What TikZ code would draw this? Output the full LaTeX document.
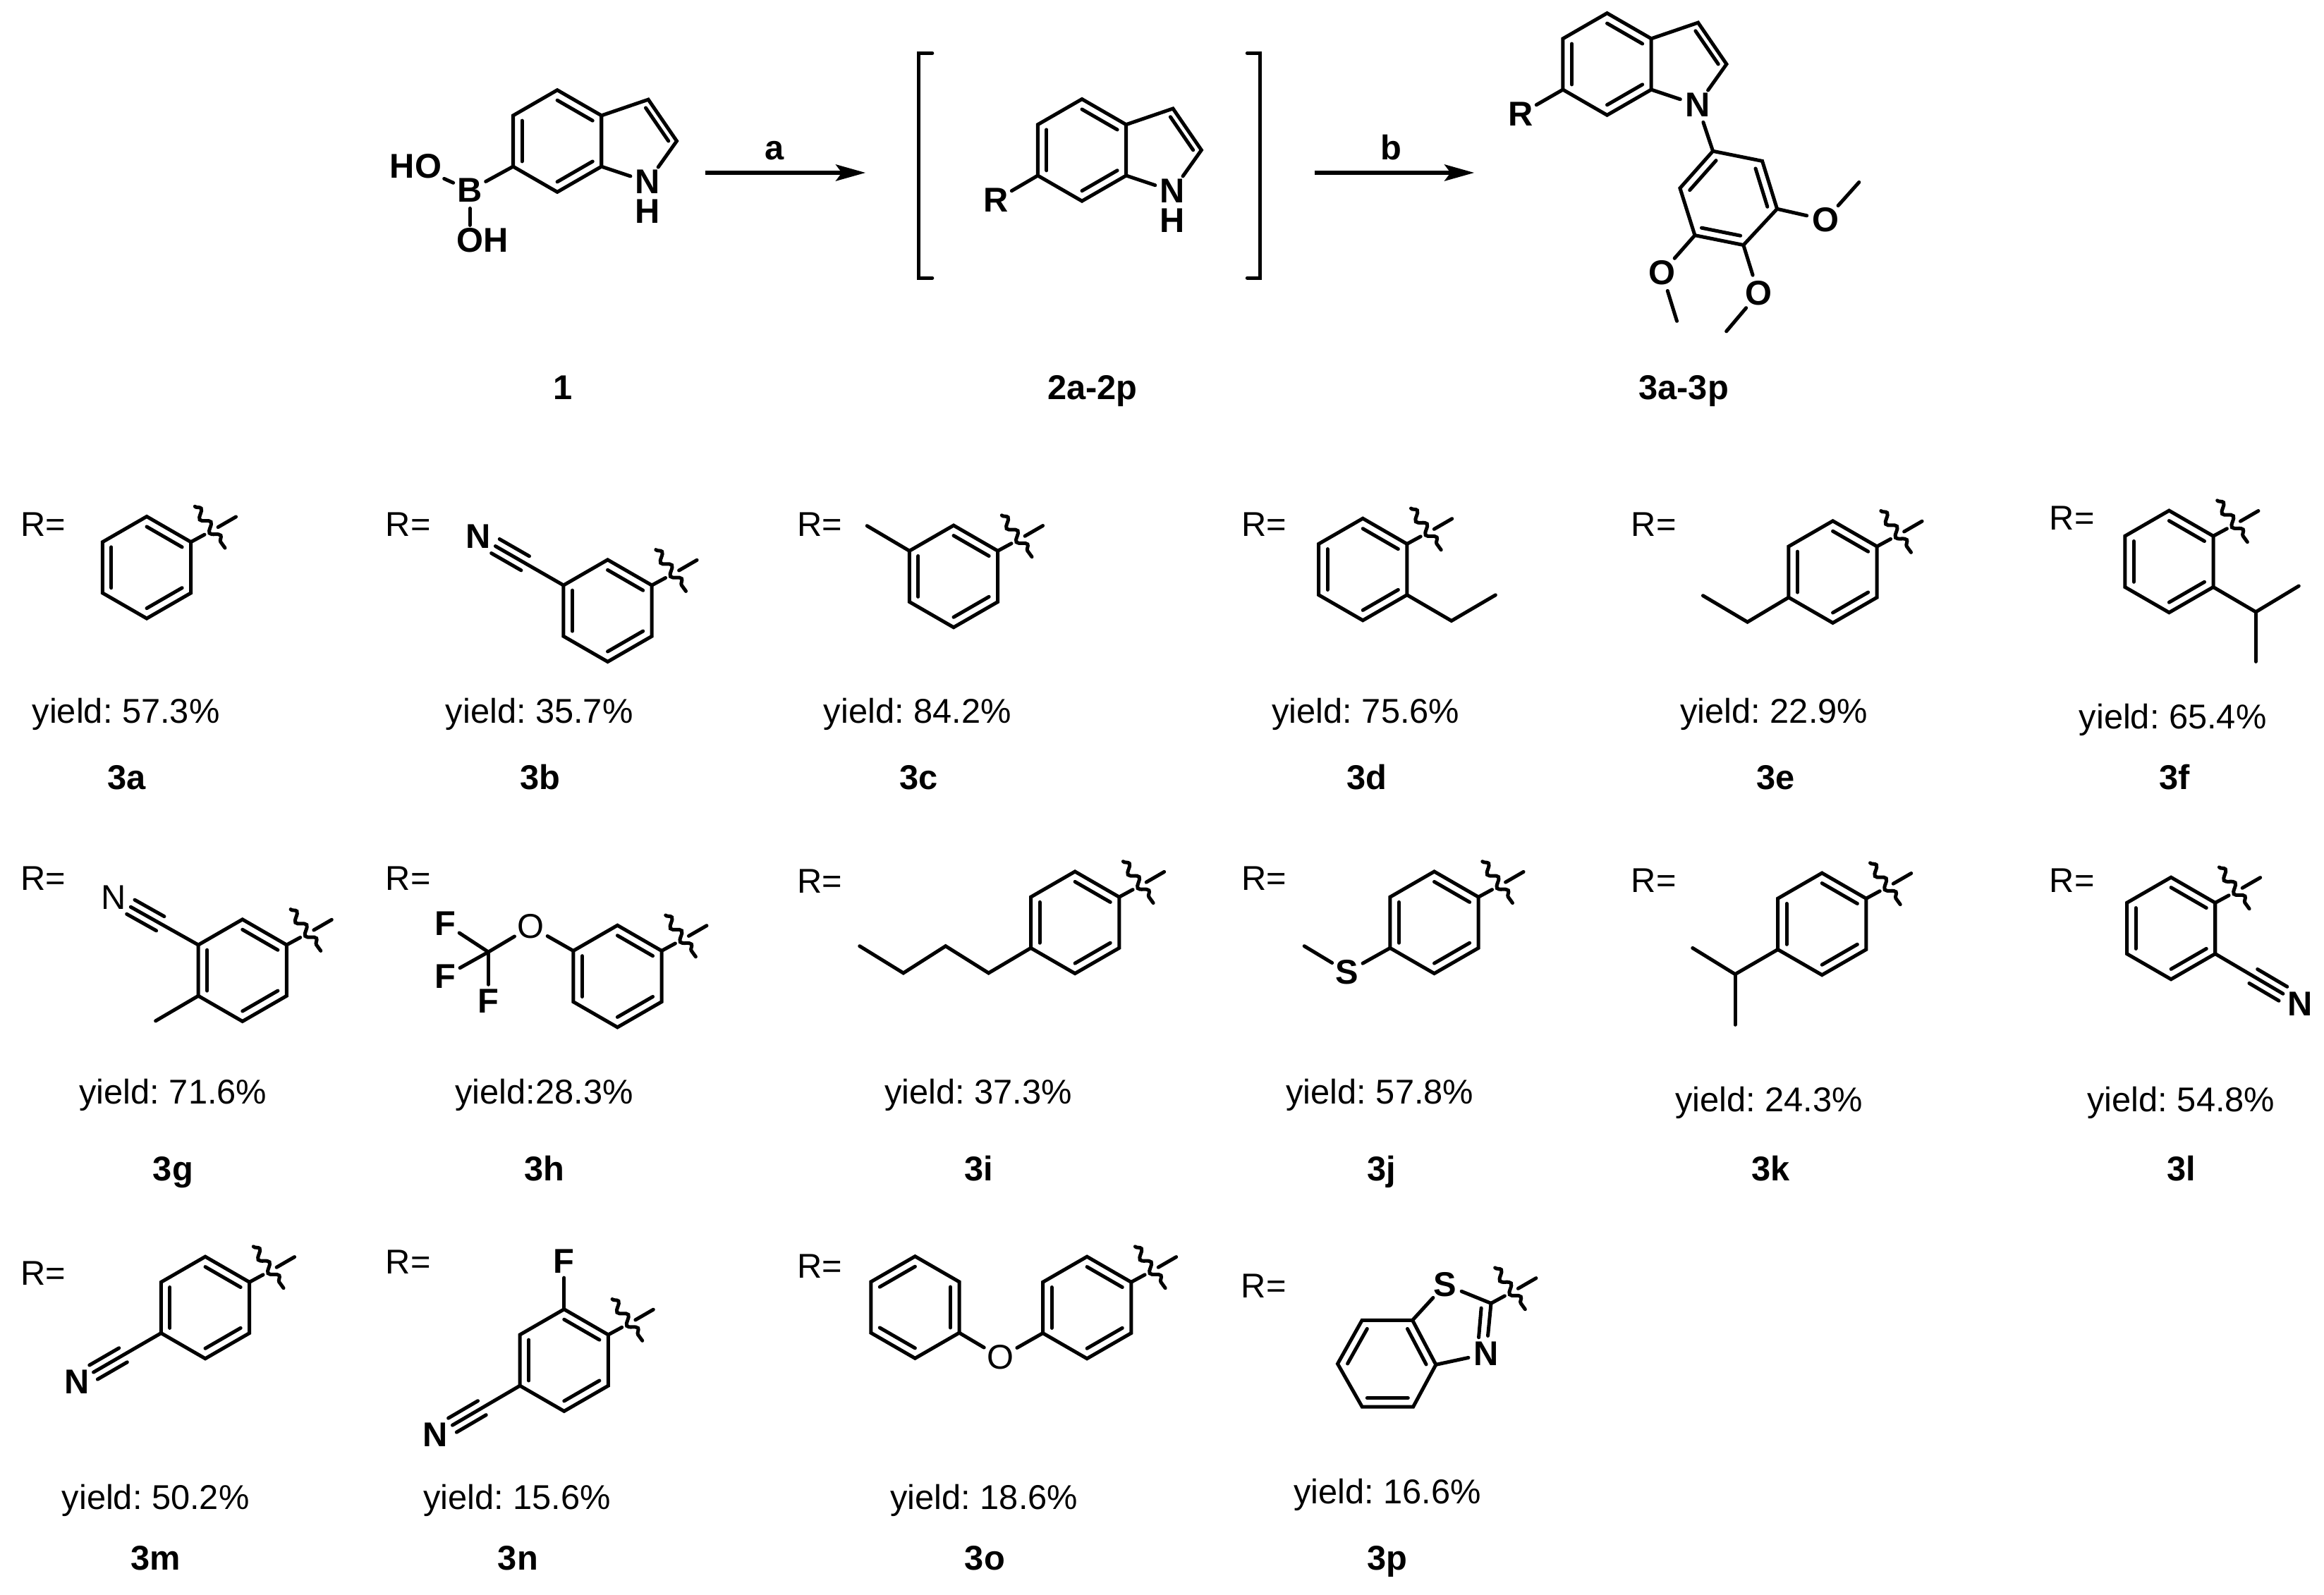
\documentclass[tikz,border=0pt]{standalone}
\usepackage{fontspec}
\setmainfont{Liberation Sans}
\frenchspacing
\usetikzlibrary{arrows.meta, calc, decorations.pathmorphing}
\tikzstyle{bond} = [line width=0.68pt, line cap=round]
\tikzstyle{wavyLine} = [bond, decorate, decoration={snake, amplitude=0.75pt, segment length=3.2pt}]
\tikzstyle{rxnArrow} = [line width=0.8pt, -{Stealth[length=2mm, width=1.1mm, inset=0.4mm]}]
\tikzstyle{atomBold} = [circle, inner sep=0pt, font=\fontsize{6.6}{8}\selectfont\bfseries]
\tikzstyle{atomThin} = [circle, inner sep=0pt, font=\fontsize{6.6}{8}\selectfont]
\tikzstyle{groupBold} = [rectangle, inner sep=0.3pt, font=\fontsize{6.6}{8}\selectfont\bfseries]
\tikzstyle{plainLabel} = [anchor=base, inner sep=0pt, font=\fontsize{6.6}{8}\selectfont]
\tikzstyle{cpdLabel} = [anchor=base, inner sep=0pt, font=\fontsize{6.6}{8}\selectfont\bfseries]
% ring outline, vertices named by position
\newcommand{\benzOutline}[3]{
    \coordinate (#1C) at (#2,#3);
    \coordinate (#1T) at (#2,#3-34.4);
    \coordinate (#1UR) at (#2+29.8,#3-17.2);
    \coordinate (#1LR) at (#2+29.8,#3+17.2);
    \coordinate (#1B) at (#2,#3+34.4);
    \coordinate (#1LL) at (#2-29.8,#3+17.2);
    \coordinate (#1UL) at (#2-29.8,#3-17.2);
    \draw [bond] (#1T) -- (#1UR) -- (#1LR) -- (#1B) -- (#1LL) -- (#1UL) -- cycle;
}
\newcommand{\innerBond}[3]{\draw [bond] ($(#1C)!0.8!(#1#2)$) -- ($(#1C)!0.8!(#1#3)$);}
\newcommand{\benzRing}[3]{
    \benzOutline{#1}{#2}{#3}
    \innerBond{#1}{T}{UR}
    \innerBond{#1}{LR}{B}
    \innerBond{#1}{LL}{UL}
}
\newcommand{\indoleCore}[3]{
    \benzRing{#1}{#2}{#3}
    \coordinate (#1pC) at (#2+52.7,#3);
    \coordinate (#1p3) at (#2+61.4,#3-28);
    \coordinate (#1p2) at (#2+80.6,#3);
    \node [atomBold] (#1N) at (#2+61,#3+27.6) {N};
    \draw [bond] (#1UR) -- (#1p3) -- (#1p2) -- (#1N) -- (#1LR);
    \innerBond{#1p}{3}{2}
}
% cut mark on the free valence
\newcommand{\wavyCut}[1]{
    \draw [bond] (#1) -- ($(#1)+(9.2,-5)$);
    \draw [bond] ($(#1)+(18.3,-10)$) -- ($(#1)+(30.4,-17)$);
    \draw [wavyLine] ($(#1)+(2.7,-24)$) -- ($(#1)+(23,4)$);
}
% nitrile from ring vertex to the N label
\newcommand{\cyano}[2]{
    \coordinate (cnEnd) at ($(#1)!0.8!(#2)$);
    \coordinate (cnMid) at ($(#1)!0.45!(#2)$);
    \draw [bond] (#1) -- (cnEnd);
    \draw [bond] ($(cnMid)!0.055cm!90:(cnEnd)$) -- ($(cnEnd)!0.055cm!-90:(cnMid)$);
    \draw [bond] ($(cnMid)!0.055cm!-90:(cnEnd)$) -- ($(cnEnd)!0.055cm!90:(cnMid)$);
}
\begin{document}
\begin{tikzpicture}[x=0.01cm, y=-0.01cm]
    \useasboundingbox (0,0) rectangle (1568,1076.4);

    % Boronic acid 1
    \indoleCore{one}{376}{95.2}
    \node [atomBold, below of=oneN, node distance=0.2cm] (oneH) {H};
    \node [atomBold] (oneB) at (317,128.4) {B};
    \node [groupBold] (oneHO) at (280.5,112) {HO};
    \node [groupBold] (oneOH) at (325.5,162) {OH};
    \draw [bond] (oneLL) -- (oneB);
    \draw [bond] (oneB) -- (oneHO);
    \draw [bond] (oneB) -- (oneB |- oneOH.north);
    \node [cpdLabel] (lblOne) at (380,269.6) {1};

    % Intermediate 2
    \indoleCore{two}{730}{101.3}
    \node [atomBold, below of=twoN, node distance=0.2cm] (twoH) {H};
    \node [atomBold] (twoR) at (672,135) {R};
    \draw [bond] (twoLL) -- (twoR);
    \coordinate (brLa) at (629,35.9);
    \coordinate (brLb) at (619.9,35.9);
    \coordinate (brLc) at (619.9,187.6);
    \coordinate (brLd) at (629,187.6);
    \coordinate (brRa) at (841.5,35.9);
    \coordinate (brRb) at (850.3,35.9);
    \coordinate (brRc) at (850.3,187.6);
    \coordinate (brRd) at (841.5,187.6);
    \draw [bond] (brLa) -- (brLb) -- (brLc) -- (brLd);
    \draw [bond] (brRa) -- (brRb) -- (brRc) -- (brRd);
    \node [cpdLabel] (lblTwo) at (737,269.6) {2a-2p};

    % Product 3
    \indoleCore{thr}{1084.3}{43.3}
    \node [atomBold] (thrR) at (1026,76.9) {R};
    \draw [bond] (thrLL) -- (thrR);
    \coordinate (arC) at (1166.3,133.8);
    \coordinate (ar1) at (1155.7,102);
    \coordinate (ar2) at (1189,108.7);
    \coordinate (ar3) at (1199,141);
    \coordinate (ar4) at (1176.3,165.4);
    \coordinate (ar5) at (1143.5,158.8);
    \coordinate (ar6) at (1133.5,127);
    \draw [bond] (ar1) -- (ar2) -- (ar3) -- (ar4) -- (ar5) -- (ar6) -- cycle;
    \innerBond{ar}{1}{6}
    \innerBond{ar}{2}{3}
    \innerBond{ar}{4}{5}
    \draw [bond] (thrN) -- (ar1);
    \node [atomBold] (omeA) at (1231.6,148.4) {O};
    \node [atomBold] (omeB) at (1186.4,198) {O};
    \node [atomBold] (omeC) at (1121.3,184) {O};
    \coordinate (meA) at (1254.3,123);
    \coordinate (meB) at (1164.8,223.6);
    \coordinate (meC) at (1131.4,216.7);
    \draw [bond] (ar3) -- (omeA) -- (meA);
    \draw [bond] (ar4) -- (omeB) -- (meB);
    \draw [bond] (ar5) -- (omeC) -- (meC);
    \node [cpdLabel] (lblThr) at (1136,269.6) {3a-3p};

    % Arrows
    \coordinate (arrAs) at (476,116.6);
    \coordinate (arrAe) at (584,116.6);
    \coordinate (arrBs) at (887,116.6);
    \coordinate (arrBe) at (994.7,116.6);
    \draw [rxnArrow] (arrAs) -- node[cpdLabel, pos=0.43, above=2pt, anchor=south] (lblA) {a} (arrAe);
    \draw [rxnArrow] (arrBs) -- node[cpdLabel, pos=0.48, above=2pt, anchor=south] (lblB) {b} (arrBe);

    % 3a
    \node [plainLabel] (rA) at (29,361.7) {R=};
    \benzRing{ra}{99}{383}
    \wavyCut{raUR}
    \node [plainLabel] (yA) at (85,487.8) {yield: 57.3\%};
    \node [cpdLabel] (lA) at (85.5,532.6) {3a};

    % 3b
    \node [plainLabel] (rB) at (275.4,361.7) {R=};
    \benzRing{rb}{410}{412.2}
    \wavyCut{rbUR}
    \node [atomBold] (nB) at (322.8,362) {N};
    \cyano{rbUL}{nB}
    \node [plainLabel] (yB) at (363.9,487.8) {yield: 35.7\%};
    \node [cpdLabel] (lB) at (364.5,532.6) {3b};

    % 3c
    \node [plainLabel] (rC) at (553,361.7) {R=};
    \benzRing{rc}{643.4}{389}
    \wavyCut{rcUR}
    \coordinate (meCc) at (585,354.9);
    \draw [bond] (rcUL) -- (meCc);
    \node [plainLabel] (yC) at (619,487.8) {yield: 84.2\%};
    \node [cpdLabel] (lC) at (620,532.6) {3c};

    % 3d
    \node [plainLabel] (rD) at (853,361.7) {R=};
    \benzRing{rd}{919.5}{384.3}
    \wavyCut{rdUR}
    \coordinate (etDa) at (979.3,419);
    \coordinate (etDb) at (1009,401.6);
    \draw [bond] (rdLR) -- (etDa) -- (etDb);
    \node [plainLabel] (yD) at (921.5,487.8) {yield: 75.6\%};
    \node [cpdLabel] (lD) at (922,532.6) {3d};

    % 3e
    \node [plainLabel] (rE) at (1115.8,361.7) {R=};
    \benzRing{re}{1236.6}{386}
    \wavyCut{reUR}
    \coordinate (etEa) at (1179,419.8);
    \coordinate (etEb) at (1149,402);
    \draw [bond] (reLL) -- (etEa) -- (etEb);
    \node [plainLabel] (yE) at (1197,487.8) {yield: 22.9\%};
    \node [cpdLabel] (lE) at (1198,532.6) {3e};

    % 3f
    \node [plainLabel] (rF) at (1398,357.7) {R=};
    \benzRing{rf}{1463.5}{379}
    \wavyCut{rfUR}
    \coordinate (ipFc) at (1522,413);
    \coordinate (ipFa) at (1551,395.5);
    \coordinate (ipFb) at (1522,446.5);
    \draw [bond] (rfLR) -- (ipFc) -- (ipFa);
    \draw [bond] (ipFc) -- (ipFb);
    \node [plainLabel] (yF) at (1466,491.7) {yield: 65.4\%};
    \node [cpdLabel] (lF) at (1467,532.6) {3f};

    % 3g
    \node [plainLabel] (rG) at (29,601) {R=};
    \benzRing{rg}{163.6}{654.9}
    \wavyCut{rgUR}
    \node [atomThin] (nG) at (76.8,605.7) {N};
    \cyano{rgUL}{nG}
    \coordinate (meG) at (105,689);
    \draw [bond] (rgLL) -- (meG);
    \node [plainLabel] (yG) at (116.8,744.8) {yield: 71.6\%};
    \node [cpdLabel] (lG) at (116.8,797) {3g};

    % 3h
    \node [plainLabel] (rH) at (275.4,601) {R=};
    \benzRing{rh}{416.6}{658.9}
    \wavyCut{rhUR}
    \node [atomThin] (oH) at (358.2,625.4) {O};
    \coordinate (cfH) at (329.5,642.5);
    \node [atomBold] (fHa) at (300.4,623.4) {F};
    \node [atomBold] (fHb) at (300.4,658.8) {F};
    \node [atomBold] (fHc) at (329.5,675.8) {F};
    \draw [bond] (rhUL) -- (oH) -- (cfH);
    \draw [bond] (cfH) -- (fHa);
    \draw [bond] (cfH) -- (fHb);
    \draw [bond] (cfH) -- (fHc);
    \node [plainLabel] (yH) at (367.2,744.8) {yield:28.3\%};
    \node [cpdLabel] (lH) at (367.2,797) {3h};

    % 3i
    \node [plainLabel] (rI) at (553,602.8) {R=};
    \benzRing{ri}{725.3}{622.6}
    \wavyCut{riUR}
    \coordinate (buIa) at (667,656.7);
    \coordinate (buIb) at (638,638.5);
    \coordinate (buIc) at (609.5,656.7);
    \coordinate (buId) at (580,638.5);
    \draw [bond] (riLL) -- (buIa) -- (buIb) -- (buIc) -- (buId);
    \node [plainLabel] (yI) at (660,744.8) {yield: 37.3\%};
    \node [cpdLabel] (lI) at (660.6,797) {3i};

    % 3j
    \node [plainLabel] (rJ) at (853,601) {R=};
    \benzRing{rj}{967.7}{622.6}
    \wavyCut{rjUR}
    \node [atomBold] (sJ) at (909,656) {S};
    \coordinate (meJ) at (880,638.5);
    \draw [bond] (rjLL) -- (sJ) -- (meJ);
    \node [plainLabel] (yJ) at (931,744.8) {yield: 57.8\%};
    \node [cpdLabel] (lJ) at (932,797) {3j};

    % 3k
    \node [plainLabel] (rK) at (1115.8,602.3) {R=};
    \benzRing{rk}{1229.3}{623.6}
    \wavyCut{rkUR}
    \coordinate (ipKc) at (1170.7,657.5);
    \coordinate (ipKa) at (1142,639.8);
    \coordinate (ipKb) at (1170.7,691.6);
    \draw [bond] (rkLL) -- (ipKc) -- (ipKa);
    \draw [bond] (ipKc) -- (ipKb);
    \node [plainLabel] (yK) at (1193.5,750) {yield: 24.3\%};
    \node [cpdLabel] (lK) at (1194.5,797) {3k};

    % 3l
    \node [plainLabel] (rL) at (1398,602.3) {R=};
    \benzRing{rl}{1464.8}{626.5}
    \wavyCut{rlUR}
    \node [atomBold] (nL) at (1551.8,677.4) {N};
    \cyano{rlLR}{nL}
    \node [plainLabel] (yL) at (1471.6,750) {yield: 54.8\%};
    \node [cpdLabel] (lL) at (1471.6,797) {3l};

    % 3m
    \node [plainLabel] (rM) at (29,867.4) {R=};
    \benzRing{rm}{138.5}{882.5}
    \wavyCut{rmUR}
    \node [atomBold] (nM) at (51.7,932.7) {N};
    \cyano{rmLL}{nM}
    \node [plainLabel] (yM) at (105,1018.7) {yield: 50.2\%};
    \node [cpdLabel] (lM) at (105,1059.7) {3m};

    % 3n
    \node [plainLabel] (rN) at (275.4,859.5) {R=};
    \benzRing{rn}{380.6}{918}
    \wavyCut{rnUR}
    \node [atomBold] (fN) at (380.6,851) {F};
    \draw [bond] (rnT) -- (fN);
    \node [atomBold] (nN) at (293.9,968.5) {N};
    \cyano{rnLL}{nN}
    \node [plainLabel] (yN) at (348.9,1018.7) {yield: 15.6\%};
    \node [cpdLabel] (lN) at (349.5,1059.7) {3n};

    % 3o
    \node [plainLabel] (rO) at (553.2,862.6) {R=};
    \benzOutline{rp}{617.4}{882.3}
    \innerBond{rp}{T}{UL}
    \innerBond{rp}{UR}{LR}
    \innerBond{rp}{LL}{B}
    \benzRing{ro}{733.4}{882.5}
    \wavyCut{roUR}
    \node [atomThin] (oO) at (675,916) {O};
    \draw [bond] (rpLR) -- (oO) -- (roLL);
    \node [plainLabel] (yO) at (664,1018.7) {yield: 18.6\%};
    \node [cpdLabel] (lO) at (664.5,1059.7) {3o};

    % 3p
    \node [plainLabel] (rP) at (852.6,876) {R=};
    \coordinate (btC) at (936,920);
    \coordinate (btUL) at (919,891);
    \coordinate (btUR) at (953,891);
    \coordinate (btR) at (968.8,921);
    \coordinate (btLR) at (953.5,949.4);
    \coordinate (btLL) at (919,949.4);
    \coordinate (btL) at (902.5,920.4);
    \draw [bond] (btUL) -- (btUR) -- (btR) -- (btLR) -- (btLL) -- (btL) -- cycle;
    \innerBond{bt}{L}{UL}
    \innerBond{bt}{UR}{R}
    \innerBond{bt}{LR}{LL}
    \node [atomBold] (sP) at (975,867) {S};
    \node [atomBold] (nP) at (1002.7,913.7) {N};
    \coordinate (btTwo) at (1006,879.6);
    \coordinate (btInA) at (999.4,882.8);
    \coordinate (btInB) at (997.7,902.6);
    \draw [bond] (btUR) -- (sP) -- (btTwo) -- (nP) -- (btR);
    \draw [bond] (btInA) -- (btInB);
    \wavyCut{btTwo}
    \node [plainLabel] (yP) at (936,1015) {yield: 16.6\%};
    \node [cpdLabel] (lP) at (936,1059.7) {3p};
\end{tikzpicture}
\end{document}
